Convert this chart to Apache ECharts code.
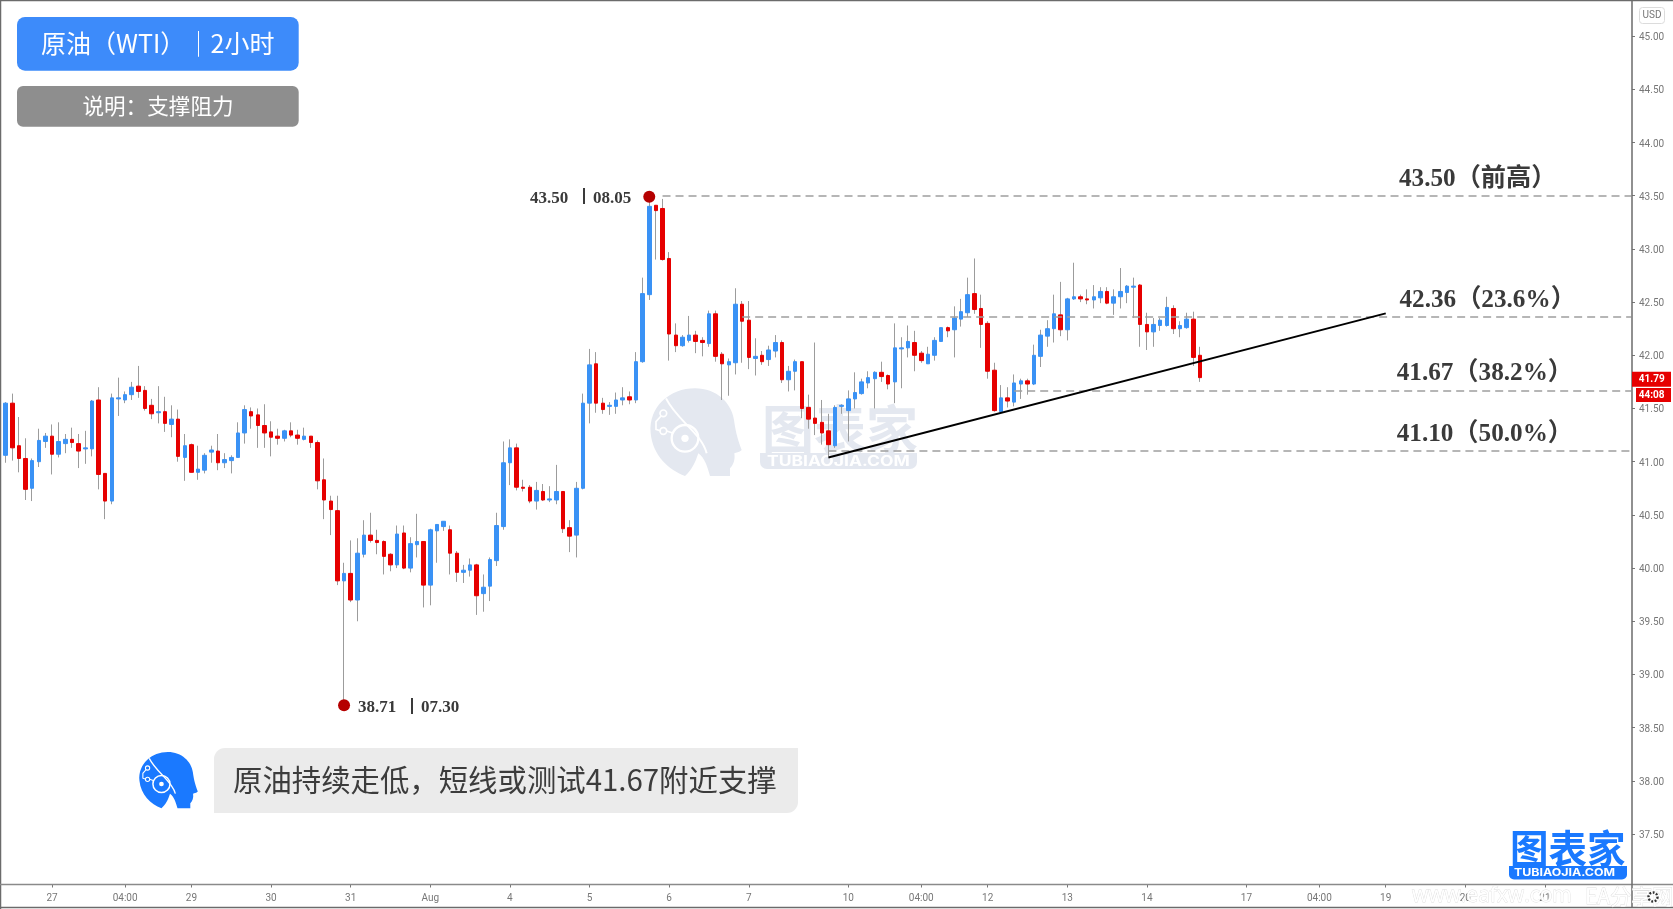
<!DOCTYPE html>
<html><head><meta charset="utf-8">
<style>html,body{margin:0;padding:0;background:#fff}#c{width:1673px;height:909px}</style>
<script src="https://cdn.jsdelivr.net/npm/echarts@6/dist/echarts.min.js"></script>
</head><body><div id="c"></div>
<script>
const opens = [41.06,41.55,41.15,41.03,40.75,41.00,41.19,41.24,41.07,41.17,
41.21,41.17,41.12,41.12,41.58,40.89,40.63,41.59,41.58,41.63,
41.71,41.67,41.53,41.46,41.47,41.35,41.40,41.04,41.16,40.90,
40.92,41.09,41.10,40.99,41.01,41.04,41.27,41.47,41.44,41.34,
41.28,41.24,41.22,41.29,41.25,41.21,41.24,41.18,40.83,40.63,
40.54,39.88,39.95,39.70,40.13,40.31,40.26,40.25,40.13,40.03,
40.33,40.00,40.22,40.25,39.84,40.35,40.39,40.36,40.14,39.96,
39.98,40.03,39.76,39.83,40.07,40.39,40.99,41.13,40.76,40.76,
40.63,40.72,40.64,40.64,40.72,40.38,40.31,40.75,41.55,41.92,
41.55,41.52,41.52,41.58,41.61,41.58,41.94,42.57,43.41,43.38,
42.91,42.19,42.09,42.14,42.19,42.14,42.11,42.39,42.01,41.91,
41.93,42.48,42.33,41.97,42.00,41.96,42.04,42.12,41.77,41.85,
41.94,41.51,41.41,41.37,41.29,41.15,41.52,41.48,41.59,41.64,
41.74,41.78,41.84,41.81,41.75,42.06,42.07,42.12,42.02,41.92,
42.00,42.13,42.26,42.24,42.34,42.40,42.58,42.44,42.30,41.86,
41.47,41.60,41.56,41.73,41.76,41.73,41.99,42.18,42.25,42.38,
42.24,42.53,42.55,42.53,42.52,42.54,42.60,42.49,42.55,42.59,
42.64,42.66,42.29,42.22,42.28,42.28,42.44,42.25,42.26,42.34,42.00];
const closes = [41.55,41.13,41.03,40.74,41.01,41.20,41.24,41.07,41.19,41.21,
41.18,41.10,41.13,41.57,40.88,40.63,41.60,41.60,41.63,41.70,
41.66,41.50,41.45,41.47,41.36,41.40,41.05,41.15,40.90,40.93,
41.06,41.11,40.99,41.02,41.04,41.27,41.49,41.43,41.34,41.27,
41.23,41.22,41.29,41.25,41.22,41.24,41.18,40.82,40.64,40.55,
39.88,39.95,39.70,40.14,40.31,40.26,40.24,40.11,40.03,40.32,
40.00,40.23,40.25,39.84,40.36,40.41,40.44,40.14,39.96,39.98,
40.03,39.74,39.82,40.08,40.40,40.99,41.13,40.76,40.75,40.63,
40.73,40.64,40.65,40.72,40.37,40.30,40.75,41.55,41.91,41.55,
41.49,41.53,41.58,41.60,41.58,41.94,42.58,43.40,43.36,42.90,
42.20,42.09,42.17,42.19,42.13,42.12,42.39,41.99,41.92,41.94,
42.48,42.32,41.98,41.99,41.94,42.05,42.12,41.77,41.85,41.94,
41.50,41.40,41.36,41.27,41.16,41.51,41.53,41.59,41.65,41.75,
41.79,41.84,41.80,41.73,42.07,42.07,42.13,42.00,41.95,42.01,
42.14,42.26,42.23,42.35,42.41,42.57,42.43,42.29,41.85,41.48,
41.60,41.57,41.74,41.76,41.73,42.00,42.19,42.25,42.39,42.24,
42.53,42.55,42.53,42.52,42.55,42.60,42.49,42.55,42.60,42.65,
42.65,42.29,42.22,42.29,42.33,42.45,42.25,42.28,42.34,41.98,41.79];
const lows = [40.99,41.01,40.90,40.64,40.63,40.95,41.13,40.88,41.04,41.08,
41.13,40.94,40.98,41.05,40.74,40.46,40.60,41.43,41.55,41.58,
41.60,41.48,41.40,41.36,41.28,41.23,41.00,40.82,40.90,40.83,
40.89,40.99,40.92,40.94,40.89,41.04,41.17,41.31,41.13,41.13,
41.05,41.16,41.19,41.23,41.16,41.20,41.13,40.74,40.46,40.31,
39.84,38.71,39.68,39.50,40.10,40.24,40.13,39.94,39.97,40.00,
39.99,39.96,40.10,39.63,39.65,40.05,40.35,39.94,39.87,39.86,
39.92,39.56,39.59,39.69,40.02,40.36,40.78,40.73,40.72,40.61,
40.55,40.63,40.62,40.60,40.33,40.15,40.10,40.74,41.36,41.46,
41.45,41.44,41.45,41.53,41.54,41.55,41.93,42.52,42.90,42.89,
41.95,42.03,42.08,42.12,42.02,41.99,42.08,41.94,41.58,41.62,
41.82,41.93,41.87,41.81,41.91,41.90,41.98,41.74,41.66,41.67,
41.41,41.31,41.25,41.16,41.05,41.13,41.45,41.19,41.50,41.63,
41.69,41.50,41.75,41.68,41.55,41.69,41.98,41.85,41.93,41.92,
41.95,42.13,42.17,41.98,42.27,42.36,42.39,42.07,41.78,41.47,
41.47,41.51,41.52,41.59,41.63,41.72,41.89,42.08,42.12,42.18,
42.14,42.52,42.50,42.48,42.44,42.49,42.48,42.38,42.44,42.49,
42.35,42.08,42.05,42.08,42.23,42.27,42.20,42.17,42.25,41.90,41.75];
const highs = [41.56,41.64,41.42,41.22,41.03,41.31,41.27,41.35,41.37,41.26,
41.32,41.26,41.29,41.58,41.70,40.89,41.64,41.79,41.66,41.75,
41.90,41.71,41.59,41.71,41.61,41.53,41.49,41.26,41.17,41.15,
41.08,41.15,41.26,41.08,41.06,41.37,41.53,41.51,41.50,41.54,
41.38,41.31,41.30,41.37,41.30,41.32,41.24,41.20,41.03,40.68,
40.68,40.05,40.26,40.28,40.45,40.52,40.36,40.26,40.14,40.40,
40.40,40.29,40.51,40.25,40.37,40.41,40.44,40.40,40.16,40.03,
40.09,40.04,39.94,40.10,40.52,41.19,41.21,41.17,40.83,40.78,
40.81,40.79,40.77,40.97,40.72,40.45,40.81,41.64,42.06,42.03,
41.60,41.56,41.65,41.70,41.66,42.03,42.73,43.50,43.41,43.47,
42.97,42.30,42.19,42.37,42.23,42.17,42.42,42.42,42.03,41.97,
42.63,42.51,42.51,42.16,42.04,42.09,42.19,42.14,41.90,41.96,
41.94,41.63,42.12,41.58,41.45,41.53,41.54,41.67,41.84,41.78,
41.85,41.85,41.94,41.82,42.30,42.17,42.28,42.23,42.04,42.08,
42.17,42.26,42.27,42.46,42.53,42.73,42.91,42.57,42.32,41.93,
41.72,41.70,41.82,41.78,41.78,42.10,42.24,42.33,42.57,42.69,
42.54,42.87,42.57,42.62,42.66,42.64,42.64,42.62,42.82,42.66,
42.73,42.67,42.40,42.35,42.35,42.55,42.47,42.32,42.40,42.41,42.08];

const tickIndex = [7,18,28,40,52,64,76,88,100,112,127,138,148,160,172,187,198,208,220,232];
const tickLabels = ['27','04:00','29','30','31','Aug','4','5','6','7','10','04:00','12','13','14','17','04:00','19','20','21'];
const priceTicks = [37.5,38,38.5,39,39.5,40,40.5,41,41.5,42,42.5,43,43.5,44,44.5,45];
const levelValues = [43.50,42.36,41.67,41.10];
const levelStart = [99,111,152,124];
const levelTexts = ['43.50（前高）','42.36（23.6%）','41.67（38.2%）','41.10（50.0%）'];
const trendFrom = [124,41.04];
const trendTo = [208,42.394];
const extremes = [[97,43.49],[51,38.71]];

const SLOTS = 246;
const categories = new Array(SLOTS).fill('');
tickIndex.forEach((p,k)=>{categories[p]=tickLabels[k];});

const serif = '"Liberation Serif","Noto Sans CJK SC",serif';
const cjk = '"Noto Sans CJK SC","Noto Sans",sans-serif';
const ink = '#3a3a3a', WM='#e4e8f0', LOGO='#1a79ff';

echarts.graphic.registerShape('headShape', echarts.graphic.extendPath('M165 318 C115 300 68 255 62 190 C55 110 120 55 195 55 C260 55 305 100 312 150 C316 178 320 200 335 240 C328 247 318 248 313 250 C316 270 310 285 300 295 L300 318 L240 318 C232 290 225 265 205 250 C195 280 185 300 165 318 Z', {}));

function head(ox,oy,s,fill,z){
  const white={stroke:'#fff',fill:'none'};
  return {type:'group',x:ox,y:oy,scaleX:s,scaleY:s,children:[
    {type:'headShape',z:z,style:{fill:fill}},
    {type:'bezierCurve',z:z,shape:{x1:108,y1:85,cpx1:140,cpy1:150,cpx2:215,cpy2:190,x2:230,y2:250},style:Object.assign({lineWidth:6},white)},
    {type:'circle',z:z,shape:{cx:165,cy:205,r:40},style:Object.assign({lineWidth:7},white)},
    {type:'circle',z:z,shape:{cx:165,cy:205,r:11},style:{fill:'#fff'}},
    {type:'circle',z:z,shape:{cx:100,cy:130,r:10},style:Object.assign({lineWidth:5},white)},
    {type:'circle',z:z,shape:{cx:100,cy:183,r:10},style:Object.assign({lineWidth:5},white)},
    {type:'polyline',z:z,shape:{points:[[93,138],[78,155],[78,178],[92,183]]},style:Object.assign({lineWidth:5},white)},
    {type:'line',z:z,shape:{x1:110,y1:183,x2:130,y2:190},style:Object.assign({lineWidth:5},white)}
  ]};
}
function txt(x,y,text,font,fill,align,z,extra){
  return Object.assign({type:'text',x:x,y:y,z:z==null?100:z,style:{text:text,font:font,fill:fill,align:align||'left',verticalAlign:'middle'}},extra||{});
}
function box(x,y,w,h,r,fill,z,stroke){
  return {type:'rect',z:z==null?99:z,shape:{x:x,y:y,width:w,height:h,r:r},style:{fill:fill,stroke:stroke||null,lineWidth:stroke?1:0}};
}
function rule(x1,y1,x2,y2,c,w){
  return {type:'line',z:98,shape:{x1:x1,y1:y1,x2:x2,y2:y2},style:{stroke:c,lineWidth:w}};
}

const levelTextPos = [[1399,179.5],[1399.5,300],[1396.7,373.5],[1396.7,434]];

const graphics = [
  head(630,370,1/3,WM,0),
  txt(762,429,'图表家','bold 52px '+cjk,WM,'left',0),
  box(760,453,157,16,[0,0,7,7],WM,0),
  txt(767,461.5,'TUBIAOJIA.COM','bold 14px Inter,sans-serif','#fff','left',0,{scaleX:1.25}),
  rule(0,0.5,1673,0.5,'#6b6b6b',1.5),
  rule(0.5,0,0.5,909,'#6b6b6b',1.5),
  rule(0,907.5,1673,907.5,'#6b6b6b',1.5),
  rule(0,884.5,1673,884.5,'#8a8a8a',1.5),
  rule(1632,0,1632,908,'#6b6b6b',1.5),
  box(17,17,281.7,53.7,8,'#3d8bfa'),
  txt(41,43,'原油（WTI）','25px '+cjk,'#fff'),
  box(198,31,1,25.7,0,'#fff',100),
  txt(210.5,43,'2小时','25px '+cjk,'#fff'),
  box(17,86,281.7,40.7,6,'#8e8e8e'),
  txt(158,105.5,'说明：支撑阻力','21.6px '+cjk,'#fff','center'),
  txt(530,199,'43.50','bold 17px '+serif,ink),
  box(583,188,2,16,0,ink,100),
  txt(593,199,'08.05','bold 17px '+serif,ink),
  txt(358,707.5,'38.71','bold 17px '+serif,ink),
  box(411,698,2,16,0,ink,100),
  txt(421,707.5,'07.30','bold 17px '+serif,ink),
  head(126.2,740.2,0.2137,LOGO,100),
  box(214,748,584,65,[11,0,11,0],'#ebebeb'),
  txt(233,779.5,'原油持续走低，短线或测试41.67附近支撑','29.4px '+cjk,'#3c3c3c'),
  box(1639.5,7.5,25,16,3,'#fff',99,'#dcdcdc'),
  txt(1652,15.5,'USD','10px Roboto,sans-serif','#777','center'),
  box(1632,371.7,39,15,0,'#e60000'),
  rule(1633,379.5,1636,379.5,'#fff',1),
  txt(1651.7,379.5,'41.79','bold 10px Roboto,sans-serif','#fff','center'),
  box(1636,388,35,14,0,'#e60000'),
  txt(1651.7,395.5,'44:08','bold 10px Roboto,sans-serif','#fff','center'),
  txt(1510,848,'图表家','bold 38.5px '+cjk,LOGO),
  box(1509,866,118,13.5,[0,0,5,5],LOGO),
  txt(1514,873,'TUBIAOJIA.COM','bold 10.5px Inter,sans-serif','#fff','left',100,{scaleX:1.18}),
  {type:'text',x:1412,y:896,z:101,style:{text:'www.eafxw.com',font:'21px "Open Sans",sans-serif',fill:'#fff',stroke:'#dedede',lineWidth:0.8,verticalAlign:'middle'}},
  {type:'text',x:1585,y:896,z:101,style:{text:'EA分享网',font:'21px '+cjk,fill:'#fff',stroke:'#dedede',lineWidth:0.8,verticalAlign:'middle'}},
  {type:'circle',z:102,shape:{cx:1653,cy:897,r:4.5},style:{fill:'none',stroke:'#333',lineWidth:2.4,lineDash:[1.8,1.6]}}
];
levelTexts.forEach((t,k)=>graphics.push(txt(levelTextPos[k][0],levelTextPos[k][1],t,'bold 25.2px '+serif,ink)));

const dashLines = levelValues.map((v,k)=>[{coord:[levelStart[k],v]},{coord:[245,v]}]);
const trendLine = [{coord:trendFrom,lineStyle:{color:'#000',type:'solid',width:2}},{coord:trendTo}];

const option = {
  animation:false,
  backgroundColor:'#fff',
  grid:{left:2.35,right:38.45,top:1,bottom:24.5},
  xAxis:{type:'category',data:categories,boundaryGap:true,
    axisLine:{show:false},
    axisTick:{show:true,alignWithLabel:true,length:3,interval:(i,v)=>v!=='',lineStyle:{color:'#777'}},
    axisLabel:{interval:(i,v)=>v!=='',color:'#777',fontSize:10,fontFamily:'Roboto,sans-serif',margin:9,hideOverlap:false},
    splitLine:{show:false}},
  yAxis:{type:'value',position:'right',offset:-2.55,min:37.026,max:45.33,
    axisLine:{show:false},
    axisTick:{show:true,length:3,customValues:priceTicks,lineStyle:{color:'#777'}},
    axisLabel:{customValues:priceTicks,formatter:v=>v.toFixed(2),color:'#777',fontSize:10,fontFamily:'Roboto,sans-serif',margin:7,verticalAlign:'top',lineHeight:3},
    splitLine:{show:false}},
  series:[
    {type:'candlestick',name:'wick',barWidth:1,z:2,silent:true,
      data:opens.map((o,i)=>[o,closes[i],lows[i],highs[i]]),
      itemStyle:{color:'#9c9c9c',color0:'#9c9c9c',borderColor:'#9c9c9c',borderColor0:'#9c9c9c',borderWidth:1}},
    {type:'candlestick',name:'body',barWidth:4,z:3,silent:true,
      data:opens.map((o,i)=>[o,closes[i],Math.min(o,closes[i]),Math.max(o,closes[i])]),
      itemStyle:{color:'#3a92f5',color0:'#e60000',borderColor:'#3a92f5',borderColor0:'#e60000',borderWidth:1},
      markLine:{silent:true,symbol:'none',z:5,label:{show:false},
        lineStyle:{color:'#9f9f9f',type:[8,5],width:1.5},
        data:dashLines.concat([trendLine])}},
    {type:'scatter',name:'extremes',z:6,symbolSize:12,silent:true,data:extremes,itemStyle:{color:'#b50000',opacity:1}}
  ],
  graphic:{elements:graphics}
};
const chart = echarts.init(document.getElementById('c'),null,{renderer:'canvas'});
chart.setOption(option);
</script></body></html>
